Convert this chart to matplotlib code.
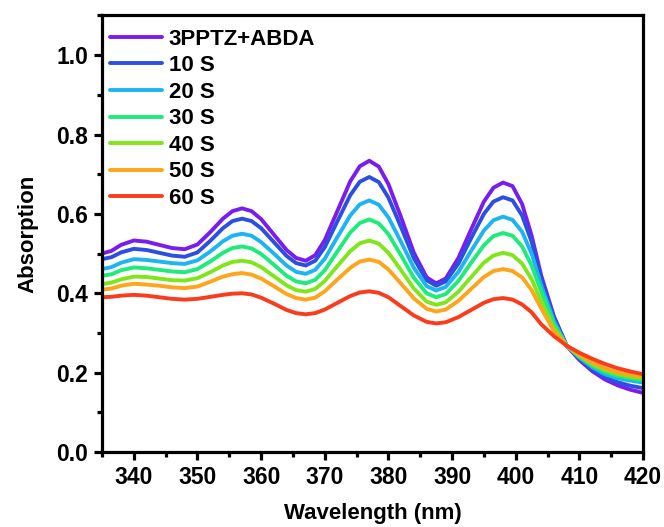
import matplotlib
matplotlib.use("Agg")
import matplotlib.pyplot as plt
from matplotlib.ticker import MultipleLocator, FormatStrFormatter

plt.rcParams['font.family'] = ['Liberation Sans', 'DejaVu Sans']
plt.rcParams['font.weight'] = 'bold'

wavelength = [335, 336.5, 338, 340, 342, 344, 346, 348, 350, 352, 354, 355.5, 357,
              358.5, 360, 362, 364, 365.5, 367, 368.5, 370, 372, 374, 375.5, 377,
              378.5, 380, 382, 384, 386, 387.5, 389, 391, 393, 395, 396.5, 398,
              399.5, 401, 402.5, 404, 406, 408, 410, 412, 414, 416, 418, 420]

abs_0s = [0.500, 0.507, 0.522, 0.533, 0.530, 0.522, 0.514, 0.511, 0.523, 0.554, 0.588, 0.607, 0.614,
          0.607, 0.587, 0.548, 0.509, 0.489, 0.482, 0.496, 0.534, 0.608, 0.682, 0.720, 0.734,
          0.719, 0.675, 0.591, 0.502, 0.440, 0.425, 0.437, 0.489, 0.561, 0.631, 0.666, 0.679,
          0.670, 0.625, 0.545, 0.445, 0.342, 0.268, 0.232, 0.204, 0.183, 0.168, 0.157, 0.149]
abs_10s = [0.486, 0.491, 0.503, 0.512, 0.509, 0.502, 0.495, 0.492, 0.503, 0.532, 0.564, 0.582, 0.588,
           0.582, 0.564, 0.529, 0.494, 0.476, 0.470, 0.482, 0.516, 0.582, 0.647, 0.681, 0.693,
           0.680, 0.641, 0.566, 0.488, 0.433, 0.419, 0.430, 0.475, 0.539, 0.600, 0.631, 0.642,
           0.634, 0.596, 0.530, 0.437, 0.338, 0.268, 0.235, 0.209, 0.189, 0.176, 0.167, 0.161]
abs_20s = [0.461, 0.466, 0.477, 0.486, 0.484, 0.480, 0.476, 0.474, 0.483, 0.505, 0.531, 0.545, 0.550,
           0.545, 0.529, 0.500, 0.470, 0.454, 0.449, 0.459, 0.487, 0.542, 0.596, 0.624, 0.634,
           0.623, 0.591, 0.529, 0.464, 0.418, 0.407, 0.416, 0.454, 0.507, 0.558, 0.584, 0.593,
           0.585, 0.555, 0.500, 0.420, 0.330, 0.268, 0.238, 0.214, 0.196, 0.186, 0.180, 0.175]
abs_30s = [0.444, 0.448, 0.458, 0.465, 0.463, 0.459, 0.455, 0.453, 0.461, 0.480, 0.502, 0.514, 0.518,
           0.513, 0.499, 0.472, 0.444, 0.430, 0.425, 0.434, 0.458, 0.506, 0.553, 0.577, 0.586,
           0.576, 0.549, 0.495, 0.439, 0.400, 0.390, 0.398, 0.431, 0.477, 0.521, 0.544, 0.552,
           0.545, 0.518, 0.470, 0.405, 0.323, 0.268, 0.240, 0.218, 0.202, 0.192, 0.186, 0.181]
abs_40s = [0.423, 0.427, 0.435, 0.442, 0.441, 0.437, 0.433, 0.432, 0.438, 0.453, 0.470, 0.479, 0.482,
           0.478, 0.466, 0.443, 0.420, 0.408, 0.404, 0.411, 0.431, 0.469, 0.506, 0.526, 0.533,
           0.525, 0.502, 0.458, 0.412, 0.379, 0.371, 0.377, 0.404, 0.441, 0.477, 0.495, 0.502,
           0.496, 0.475, 0.435, 0.380, 0.312, 0.268, 0.243, 0.222, 0.207, 0.197, 0.190, 0.185]
abs_50s = [0.409, 0.412, 0.419, 0.424, 0.422, 0.419, 0.415, 0.413, 0.417, 0.429, 0.442, 0.448, 0.451,
           0.447, 0.437, 0.418, 0.398, 0.388, 0.384, 0.389, 0.405, 0.435, 0.464, 0.480, 0.485,
           0.479, 0.460, 0.424, 0.387, 0.361, 0.354, 0.359, 0.381, 0.411, 0.441, 0.456, 0.461,
           0.456, 0.440, 0.408, 0.362, 0.305, 0.268, 0.245, 0.226, 0.211, 0.201, 0.195, 0.190]
abs_60s = [0.390, 0.391, 0.394, 0.396, 0.394, 0.390, 0.386, 0.384, 0.386, 0.391, 0.396, 0.399, 0.400,
           0.397, 0.389, 0.374, 0.358, 0.350, 0.347, 0.350, 0.359, 0.376, 0.393, 0.402, 0.405,
           0.401, 0.390, 0.367, 0.344, 0.328, 0.324, 0.327, 0.340, 0.358, 0.376, 0.385, 0.388,
           0.384, 0.372, 0.352, 0.322, 0.292, 0.268, 0.250, 0.235, 0.222, 0.211, 0.203, 0.196]

labels = ['3PPTZ+ABDA', '10 S', '20 S', '30 S', '40 S', '50 S', '60 S']
colors = ['#7A1CF0', '#2B4FE3', '#1CB4F2', '#1EEB7A', '#80E61C', '#FFA51C', '#FA3C1C']
series = [abs_0s, abs_10s, abs_20s, abs_30s, abs_40s, abs_50s, abs_60s]

fig = plt.figure(figsize=(6.64, 5.27), dpi=100)
ax = fig.add_axes([0.1536, 0.1423, 0.8148, 0.8283])

for ys, lab, c in zip(series, labels, colors):
    ax.plot(wavelength, ys, color=c, lw=2.8, label=lab,
            solid_joinstyle='round', solid_capstyle='round')

ax.set_xlim(335, 420)
ax.set_ylim(0, 1.1)
ax.xaxis.set_major_locator(MultipleLocator(10))
ax.xaxis.set_minor_locator(MultipleLocator(5))
ax.yaxis.set_major_locator(MultipleLocator(0.2))
ax.yaxis.set_minor_locator(MultipleLocator(0.1))
ax.yaxis.set_major_formatter(FormatStrFormatter('%.1f'))

for s in ax.spines.values():
    s.set_linewidth(2.3)
ax.tick_params(which='major', direction='out', length=6, width=2.3, labelsize=16.5, pad=4)
ax.tick_params(which='minor', direction='out', length=3.5, width=2.3)
ax.tick_params(top=False, right=False, which='both')

ax.set_xlabel('Wavelength (nm)', fontsize=16, fontweight='bold', labelpad=10)
ax.set_ylabel('Absorption', fontsize=16, fontweight='bold', labelpad=13)

leg = ax.legend(loc='upper left', frameon=False, fontsize=16, handlelength=2.35,
                handletextpad=0.3, labelspacing=0.25, borderpad=0.3, borderaxespad=0.0,
                bbox_to_anchor=(0.002, 0.985))

fig.savefig('out.png', dpi=100)
